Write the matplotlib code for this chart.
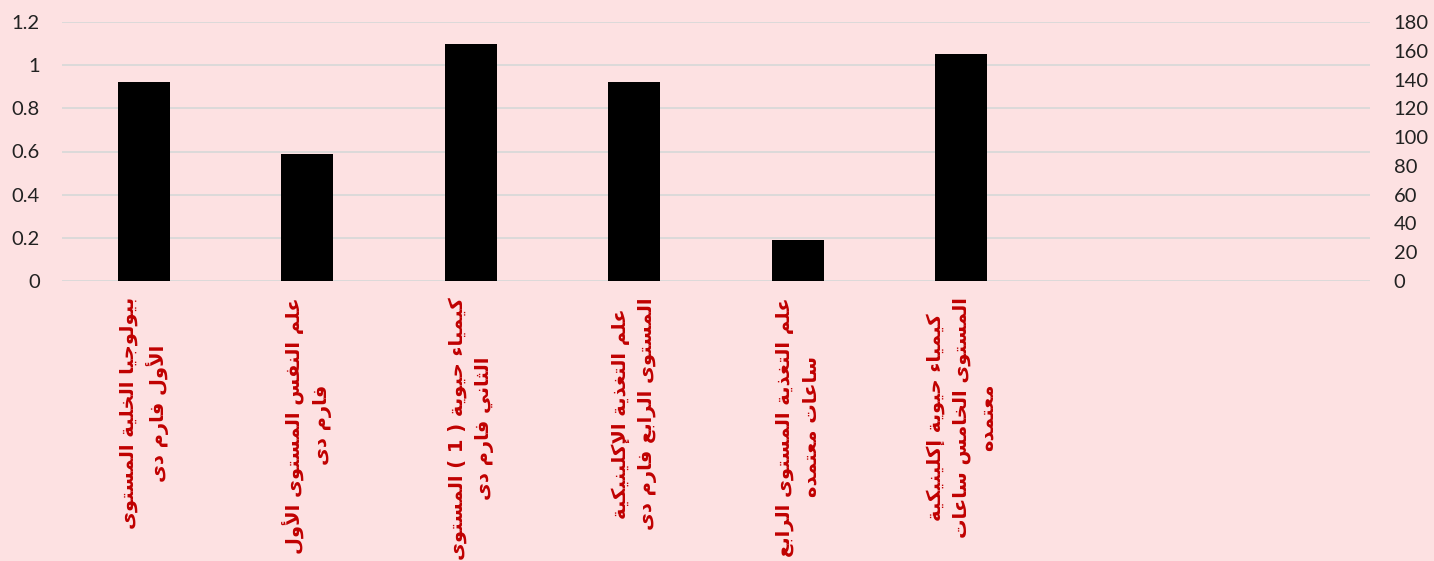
import unicodedata
import matplotlib
matplotlib.use('Agg')
import matplotlib.pyplot as plt
import matplotlib.transforms as mtransforms

# bar chart with two y axes, arabic course names under the bars
courses = [
    'بيولوجيا الخلية المستوى\nالأول فارم دى',
    'علم النفس المستوى الأول\nفارم دى',
    'كيمياء حيوية ( 1 ) المستوى\nالثاني فارم دى',
    'علم التغذية الإكلينيكية\nالمستوى الرابع فارم دى',
    'علم التغذية المستوى الرابع\nساعات معتمده',
    'كيمياء حيوية إكلينيكية\nالمستوى الخامس ساعات\nمعتمده',
    '',
    '',
]
values = [0.92, 0.59, 1.10, 0.92, 0.19, 1.05]
left_ticks = [0, 0.2, 0.4, 0.6, 0.8, 1, 1.2]
right_ticks = list(range(0, 181, 20))

bg = '#FDE1E2'
red = '#C00000'
tick_color = '#222222'

# matplotlib does not join arabic letters, so pick the presentation forms by hand
FORMS = {}
LIGS = {}
for cp in range(0xFE70, 0xFEFD):
    d = unicodedata.decomposition(chr(cp)).split()
    if len(d) < 2:
        continue
    tag = d[0].strip('<>')
    base = ''.join(chr(int(x, 16)) for x in d[1:])
    if len(base) == 1:
        FORMS.setdefault(base, {})[tag] = chr(cp)
    else:
        LIGS[(base, tag)] = chr(cp)


def joins_next(c):
    return c in FORMS and 'initial' in FORMS[c]


def joins_prev(c):
    return c in FORMS and 'final' in FORMS[c]


def shape(line):
    out = []
    i = 0
    n = len(line)
    while i < n:
        c = line[i]
        if c not in FORMS:
            out.append(c)
            i += 1
            continue
        prev = line[i - 1] if i > 0 else ''
        nxt = line[i + 1] if i + 1 < n else ''
        jp = joins_next(prev) and joins_prev(c)
        if c == 'ل' and nxt in 'اأإآ' and nxt:
            out.append(LIGS[(c + nxt, 'final' if jp else 'isolated')])
            i += 2
            continue
        jn = joins_next(c) and joins_prev(nxt)
        if jp and jn:
            form = 'medial'
        elif jp:
            form = 'final'
        elif jn:
            form = 'initial'
        else:
            form = 'isolated'
        out.append(FORMS[c].get(form, FORMS[c]['isolated']))
        i += 1
    vis = ''.join(out)[::-1]
    return vis.translate(str.maketrans('()', ')('))


def rtl(text):
    return '\n'.join(shape(l) for l in text.split('\n'))


fig = plt.figure(figsize=(14.34, 5.61), dpi=100, facecolor=bg)
ax = fig.add_axes([62 / 1434, 1 - 281 / 561, (1370 - 62) / 1434, 259 / 561])
ax.set_facecolor(bg)

x = list(range(len(courses)))
ax.bar(x[:len(values)], values, width=0.32, color='black', zorder=3)

ax.set_xlim(-0.5, len(courses) - 0.5)
ax.set_ylim(0, 1.2)
ax.set_yticks(left_ticks)
ax.set_yticklabels(['0', '0.2', '0.4', '0.6', '0.8', '1', '1.2'])
ax.grid(axis='y', color='#D9D9D9', linewidth=1.3, zorder=0)
ax.set_xticks([])
for s in ax.spines.values():
    s.set_visible(False)
ax.tick_params(axis='y', length=0, pad=16, labelsize=14.5, labelcolor=tick_color)
for t in ax.get_yticklabels():
    t.set_fontfamily('Lato')

ax2 = ax.twinx()
ax2.set_ylim(0, 180)
ax2.set_yticks(right_ticks)
for s in ax2.spines.values():
    s.set_visible(False)
ax2.tick_params(axis='y', length=0, pad=17, labelsize=14.5, labelcolor=tick_color)
for t in ax2.get_yticklabels():
    t.set_fontfamily('Lato')

trans = mtransforms.blended_transform_factory(ax.transData, ax.transAxes)
for xi, name in zip(x, courses):
    if not name:
        continue
    ax.text(xi, -16 / 259, rtl(name), transform=trans, rotation=90,
            ha='center', va='top', multialignment='center',
            color=red, fontsize=14, fontweight='bold',
            family='DejaVu Sans', linespacing=1.45, clip_on=False)

fig.savefig('out.png', dpi=100, facecolor=bg)
